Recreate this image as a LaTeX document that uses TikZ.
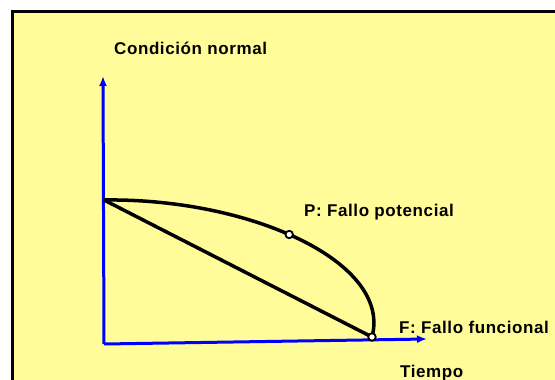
\documentclass[tikz,border=0pt]{standalone}
\usepackage{fontspec}
\setmainfont{Liberation Sans}
\usetikzlibrary{arrows.meta}
\definecolor{paper}{RGB}{255,252,153}
\definecolor{axisblue}{RGB}{0,0,255}
\begin{document}
\begin{tikzpicture}[x=1pt,y=-1pt,
  lbl/.style={font=\fontsize{17}{19}\selectfont\bfseries\addfontfeatures{LetterSpace=3.5}, inner sep=0pt, anchor=base west},
  axis/.style={draw=axisblue, line width=3pt, -{Latex[length=10pt,width=8pt]}},
  curve/.style={draw=black, line width=3.5pt},
  dot/.style={circle, draw=black, fill=white, line width=1.8pt, minimum size=7.5pt, inner sep=0pt}]
\useasboundingbox (0,0) rectangle (555,380);
\clip (0,0) rectangle (555,380);
\fill[white] (0,0) rectangle (555,380);
\draw[fill=paper, line width=3pt] (12.5,11.5) rectangle (620,430);
% coordinates
\coordinate (O) at (104,344);
\coordinate (ytip) at (103,76);
\coordinate (xtip) at (427,339);
\coordinate (A) at (104,200);
\coordinate (F) at (372,337);
% axes
\draw[axis] (O) -- (ytip);
\draw[axis] (O) -- (xtip);
% curves
\draw[curve] (A) -- (F);
\draw[curve] (A) .. controls (250,198) and (392,262) .. coordinate[pos=0.465] (P) (F);
\node[dot] (Pdot) at (P) {};
\node[dot] (Fdot) at (F) {};
% labels
\node[lbl] (cond) at (114,54) {Condición normal};
\node[lbl] (plbl) at (304,216) {P: Fallo potencial};
\node[lbl] (flbl) at (399,333) {F: Fallo funcional};
\node[lbl] (tiempo) at (400,377) {Tiempo};
\end{tikzpicture}
\end{document}
